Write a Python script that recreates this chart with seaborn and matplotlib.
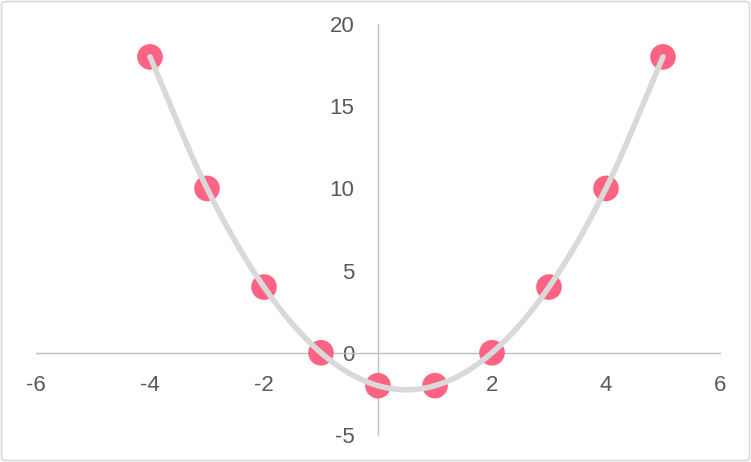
import numpy as np
import pandas as pd
import seaborn as sns
import matplotlib.pyplot as plt
from matplotlib.patches import FancyBboxPatch

# data
x_vals = [-4, -3, -2, -1, 0, 1, 2, 3, 4, 5]
y_vals = [18, 10, 4, 0, -2, -2, 0, 4, 10, 18]
x_ticks = [-6, -4, -2, 0, 2, 4, 6]
y_ticks = [-5, 0, 5, 10, 15, 20]

df = pd.DataFrame({'x': x_vals, 'y': y_vals})


def smooth(xs, ys, steps=30):
    # Catmull-Rom curve through the points (like Excel's smoothed line)
    p = np.column_stack([xs, ys]).astype(float)
    p = np.vstack([2 * p[0] - p[1], p, 2 * p[-1] - p[-2]])
    out = []
    t = np.linspace(0, 1, steps)[:, None]
    for i in range(1, len(p) - 2):
        p0, p1, p2, p3 = p[i - 1], p[i], p[i + 1], p[i + 2]
        seg = 0.5 * (2 * p1 + (-p0 + p2) * t
                     + (2 * p0 - 5 * p1 + 4 * p2 - p3) * t ** 2
                     + (-p0 + 3 * p1 - 3 * p2 + p3) * t ** 3)
        out.append(seg if i == 1 else seg[1:])
    return pd.DataFrame(np.vstack(out), columns=['x', 'y'])


curve = smooth(x_vals, y_vals)

sns.set_style('white')
plt.rcParams['font.family'] = ['Liberation Sans', 'DejaVu Sans']
plt.rcParams['axes.unicode_minus'] = False

fig = plt.figure(figsize=(7.51, 4.62), dpi=100)
ax = fig.add_axes([36 / 751, 1 - 435 / 462, 684 / 751, 411 / 462])

sns.scatterplot(data=df, x='x', y='y', ax=ax, s=340, color='#ff6384',
                edgecolor='none', zorder=3, clip_on=False)
sns.lineplot(data=curve, x='x', y='y', ax=ax, sort=False, color='#d9d9d9',
             linewidth=4, zorder=4, solid_capstyle='round', clip_on=False)

ax.set_xlim(-6, 6)
ax.set_ylim(-5, 20)
ax.set_xticks(x_ticks)
ax.set_yticks(y_ticks)
ax.set_xlabel('')
ax.set_ylabel('')

for s in ['top', 'right']:
    ax.spines[s].set_visible(False)
ax.spines['left'].set_position(('data', 0))
ax.spines['bottom'].set_position(('data', 0))
for s in ['left', 'bottom']:
    ax.spines[s].set_color('#bfbfbf')
    ax.spines[s].set_linewidth(1)
    ax.spines[s].set_zorder(1)

ax.tick_params(axis='x', length=0, pad=16, labelsize=16, labelcolor='#595959')
ax.tick_params(axis='y', length=0, pad=17, labelsize=16, labelcolor='#595959')
ax.patch.set_alpha(0)

# chart border
fig.patches.append(FancyBboxPatch((1.5 / 751, 1.5 / 462), 1 - 3 / 751, 1 - 3 / 462,
                                  boxstyle='round,pad=0,rounding_size=0.006',
                                  transform=fig.transFigure, fill=False,
                                  edgecolor='#d9d9d9', linewidth=1.2))

fig.savefig('out.png', dpi=100)
